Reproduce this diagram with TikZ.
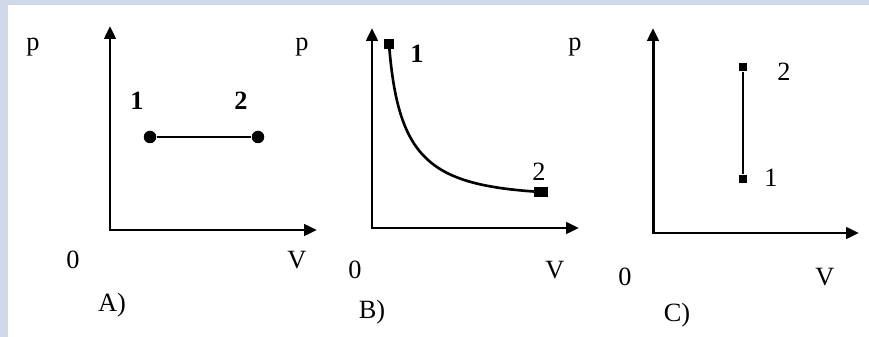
\documentclass[tikz,border=0pt]{standalone}
\usepackage{fontspec}
\setmainfont{Liberation Serif}
\usetikzlibrary{arrows.meta}
\definecolor{frameblue}{RGB}{208,216,232}
\tikzset{
  axis/.style={line width=1.7pt,black,line join=miter,{Triangle[length=2.6mm,width=2.3mm]}-{Triangle[length=2.6mm,width=2.3mm]}},
  seg/.style={line width=1.1pt,black},
  curv/.style={line width=1.5pt,black},
  dot/.style={circle,fill=black,inner sep=0pt,minimum size=2.5mm},
  sqdot/.style={rectangle,fill=black,inner sep=0pt,minimum size=1.9mm},
  lab/.style={font=\fontsize{15}{18}\selectfont},
  num/.style={font=\fontsize{15}{18}\selectfont\bfseries},
  numr/.style={font=\fontsize{15}{18}\selectfont}
}
\begin{document}
\begin{tikzpicture}[x=0.02cm,y=-0.02cm]
  \useasboundingbox (0,0) rectangle (869,337);
  \fill[frameblue] (0,0) rectangle (869,337);
  \fill[white] (8,5) rectangle (869,337);
  % A)
  \coordinate (Ao) at (110,230);
  \coordinate (Ay) at (110,26);
  \coordinate (Ax) at (317,230);
  \draw[axis] (Ay) -- (Ao) -- (Ax);
  \node[dot] (A1) at (150,137) {};
  \node[dot] (A2) at (258,137) {};
  \draw[seg] (A1) -- (A2);
  \node[num] (A1l) at (137,101) {1};
  \node[num] (A2l) at (241,101) {2};
  \node[lab] (Ap) at (33,47) {p};
  \node[lab] (A0) at (73,260) {0};
  \node[lab] (AV) at (297,260) {V};
  \node[lab] (Al) at (112,305) {A)};
  % B)
  \coordinate (Bo) at (372,228);
  \coordinate (By) at (372,28);
  \coordinate (Bx) at (579,228);
  \draw[axis] (By) -- (Bo) -- (Bx);
  \node[sqdot] (B1) at (389,44) {};
  \node[sqdot,minimum width=2.8mm] (B2) at (541,192) {};
  \draw[curv] (B1.center) .. controls (398,160) and (430,185) .. (B2.center);
  \node[num] (B1l) at (417,54) {1};
  \node[numr] (B2l) at (539,172) {2};
  \node[lab] (Bp) at (302,47) {p};
  \node[lab] (B0) at (355,270) {0};
  \node[lab] (BV) at (555,270) {V};
  \node[lab] (Bl) at (372,312) {B)};
  % C)
  \coordinate (Co) at (653,233);
  \coordinate (Cy) at (653,28);
  \coordinate (Cx) at (859,233);
  \draw[axis] (Cy) -- (Co) -- (Cx);
  \node[sqdot,minimum size=1.7mm] (C2) at (743,67) {};
  \node[sqdot,minimum size=1.7mm] (C1) at (743,179) {};
  \draw[seg] (C1) -- (C2);
  \node[numr] (C2l) at (784,72) {2};
  \node[numr] (C1l) at (771,178) {1};
  \node[lab] (Cp) at (575,47) {p};
  \node[lab] (C0) at (625,277) {0};
  \node[lab] (CV) at (825,277) {V};
  \node[lab] (Cl) at (677,315) {C)};
\end{tikzpicture}
\end{document}
